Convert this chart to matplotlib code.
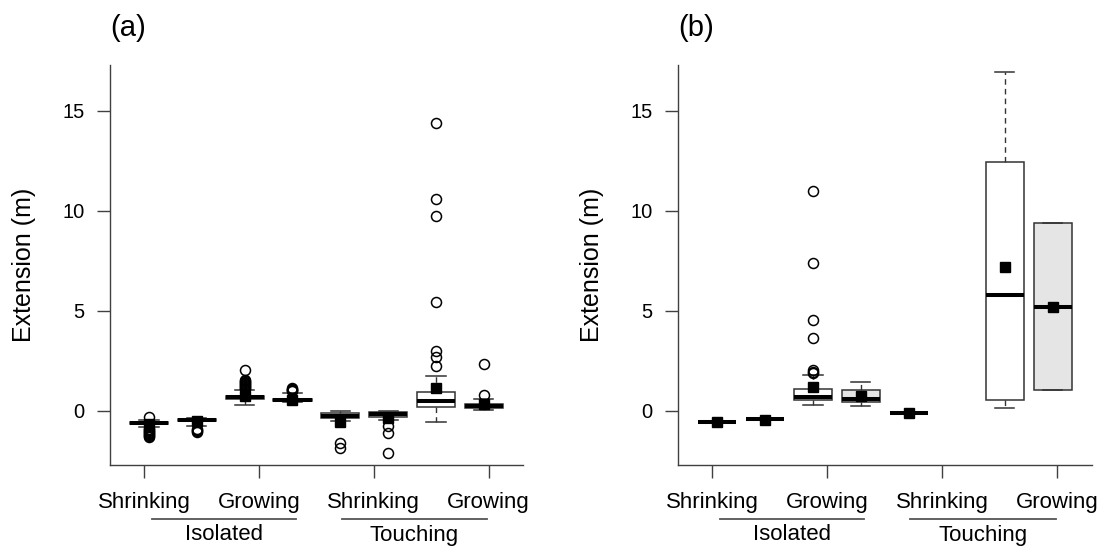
import numpy as np
import matplotlib
matplotlib.use('Agg')
import matplotlib.pyplot as plt

plt.rcParams['font.family'] = ['Liberation Sans', 'DejaVu Sans']

# box order: Isolated Shrinking (white, grey), Isolated Growing (white, grey),
#            Touching Shrinking (white, grey), Touching Growing (white, grey)
tick_labels = ['Shrinking', 'Growing', 'Shrinking', 'Growing']
group_labels = ['Isolated', 'Touching']

# panel (a)
a_lo = [-0.83, -0.75, 0.30, 0.42, -0.50, -0.48, -0.58, 0.02]
a_q1 = [-0.68, -0.52, 0.60, 0.48, -0.38, -0.30, 0.20, 0.12]
a_med = [-0.63, -0.47, 0.67, 0.53, -0.25, -0.18, 0.50, 0.22]
a_q3 = [-0.58, -0.42, 0.75, 0.60, -0.10, -0.08, 0.92, 0.33]
a_hi = [-0.45, -0.35, 1.03, 0.88, 0.00, 0.00, 1.75, 0.60]
a_mean = [-0.68, -0.50, 0.72, 0.55, -0.55, -0.35, 1.12, 0.32]
a_out = [
    [-0.33, -0.9, -0.95, -1.0, -1.05, -1.1, -1.15, -1.2, -1.25, -1.3],
    [-0.9, -0.95, -1.0, -1.05],
    [1.1, 1.15, 1.2, 1.25, 1.3, 1.35, 1.4, 1.45, 1.5, 1.55, 2.02],
    [0.98, 1.02, 1.06, 1.1, 1.14],
    [-1.63, -1.88],
    [-0.77, -1.1, -2.13],
    [2.25, 2.67, 3.0, 5.42, 9.72, 10.58, 14.4],
    [0.78, 2.33],
]

# panel (b), None = no data
b_lo = [-0.55, -0.42, 0.28, 0.25, -0.10, None, 0.15, 1.03]
b_q1 = [-0.55, -0.42, 0.53, 0.45, -0.10, None, 0.53, 1.03]
b_med = [-0.55, -0.42, 0.67, 0.57, -0.10, None, 5.78, 5.20]
b_q3 = [-0.55, -0.42, 1.08, 1.03, -0.10, None, 12.45, 9.37]
b_hi = [-0.55, -0.42, 1.78, 1.42, -0.10, None, 16.95, 9.37]
b_mean = [-0.57, -0.45, 1.17, 0.73, -0.10, None, 7.17, 5.20]
b_out = [[], [], [1.9, 1.95, 2.05, 3.62, 4.53, 7.4, 11.0], [], [], [], [], []]

fills = ['white', '#e5e5e5'] * 4
edge = '#333333'


def panel(ax, lo, q1, med, q3, hi, mean, out, title):
    stats, pos, cols = [], [], []
    for i in range(8):
        if med[i] is None:
            continue
        stats.append(dict(whislo=lo[i], q1=q1[i], med=med[i], q3=q3[i],
                          whishi=hi[i], mean=mean[i], fliers=out[i]))
        pos.append(i + 1)
        cols.append(fills[i])
    bp = ax.bxp(stats, positions=pos, widths=0.8, showmeans=True, patch_artist=True,
                boxprops=dict(edgecolor=edge, linewidth=1.1),
                medianprops=dict(color='black', linewidth=2.9, solid_capstyle='butt'),
                whiskerprops=dict(color=edge, linewidth=1.0, linestyle=(0, (4, 3))),
                capprops=dict(color=edge, linewidth=1.1),
                flierprops=dict(marker='o', markerfacecolor='none', markeredgecolor='black',
                                markersize=7.2, markeredgewidth=1.1),
                meanprops=dict(marker='s', markerfacecolor='black', markeredgecolor='black',
                               markersize=7))
    for patch, c in zip(bp['boxes'], cols):
        patch.set_facecolor(c)

    ax.set_xlim(0.185, 8.82)
    ax.set_ylim(-2.715, 17.285)
    ax.set_yticks([0, 5, 10, 15])
    ax.set_xticks([0.9, 3.3, 5.7, 8.1])
    ax.set_xticklabels(tick_labels)
    for s in ['top', 'right']:
        ax.spines[s].set_visible(False)
    for s in ['left', 'bottom']:
        ax.spines[s].set_color('#404040')
        ax.spines[s].set_linewidth(1.0)
    ax.tick_params(axis='both', direction='out', length=9.5, width=1.0, color='#404040')
    ax.tick_params(axis='x', labelsize=16, pad=10)
    ax.tick_params(axis='y', labelsize=14.5, pad=8.6)
    ax.set_ylabel('Extension (m)', fontsize=18)
    ax.yaxis.set_label_coords(-0.178, 0.5)
    ax.set_title(title, loc='left', fontsize=21, pad=21)

    tr = ax.get_xaxis_transform()
    for (x0, x1), lab in zip([(1.06, 4.07), (5.03, 8.06)], group_labels):
        ax.plot([x0, x1], [-0.135, -0.135], color='#555555', linewidth=1.3,
                transform=tr, clip_on=False)
        ax.text((x0 + x1) / 2, -0.175, lab, fontsize=16, ha='center', va='center',
                transform=tr)


fig = plt.figure(figsize=(11.05, 5.52), dpi=100)
ax1 = fig.add_axes([110 / 1105, 87 / 552, 413 / 1105, 400 / 552])
ax2 = fig.add_axes([678 / 1105, 87 / 552, 414 / 1105, 400 / 552])

panel(ax1, a_lo, a_q1, a_med, a_q3, a_hi, a_mean, a_out, '(a)')
panel(ax2, b_lo, b_q1, b_med, b_q3, b_hi, b_mean, b_out, '(b)')

fig.savefig('out.png', dpi=100)
